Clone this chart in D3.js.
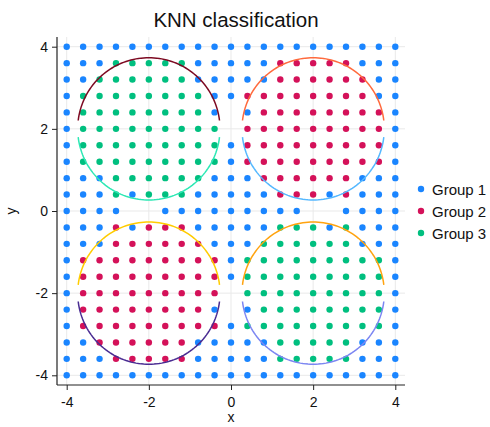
<!DOCTYPE html>
<html>
<head>
<meta charset="utf-8">
<script src="https://cdn.jsdelivr.net/npm/d3@7"></script>
<style>
  body { margin: 0; background: #fff; }
  svg { display: block; font-family: "Liberation Sans", Arial, sans-serif; }
</style>
</head>
<body>
<svg id="chart" width="490" height="427"></svg>
<script>
// --- DATA ---
const gridX = [-4, -3.6, -3.2, -2.8, -2.4, -2, -1.6, -1.2, -0.8, -0.4, 0, 0.4, 0.8, 1.2, 1.6, 2, 2.4, 2.8, 3.2, 3.6, 4];
const gridY = [4, 3.6, 3.2, 2.8, 2.4, 2, 1.6, 1.2, 0.8, 0.4, 0, -0.4, -0.8, -1.2, -1.6, -2, -2.4, -2.8, -3.2, -3.6, -4];
// predicted group per grid cell, one string per row (top to bottom); "." = no prediction
const predRows = [
  "111111111111111111111",
  "111333331111122222111",
  "113333331111122222211",
  "133333333112222222211",
  "1333333331.1222222221",
  "1333333333.2222222221",
  "133333333312222222221",
  "133333333312222222221",
  "111333333111222222111",
  "111313331111122212111",
  "1111..111111111..1111",
  "111212221111133313111",
  "111222222111333333111",
  "122222222213333333331",
  "122222222213333333331",
  "1222222222.3333333331",
  "1222222221.1333333331",
  "122222222213333333331",
  "112222221111133333111",
  "111222221111133333111",
  "111111111111111111111"
];
const groups = ["Group 1", "Group 2", "Group 3"];
const tickVals = [-4, -2, 0, 2, 4];
// true class regions: circles, drawn as upper and lower halves
const circleX = [-2, 2, -2, 2];
const circleY = [2, 2, -2, -2];
const circleR = [1.732, 1.732, 1.732, 1.732];
const arcHalfWidth = 1.72;

// --- STYLE ---
const groupColors = ["#1a85ff", "#d41159", "#00bf7f"];
const upperColors = ["#7d0a22", "#ff6a3d", "#ffcc00", "#ffa30f"];
const lowerColors = ["#2de8b4", "#55b8ff", "#4a2c92", "#7c86f2"];

const svg = d3.select("#chart");
const plotLeft = 57, plotRight = 405, plotTop = 37, plotBottom = 385;

const x = d3.scaleLinear().domain([-4, 4]).range([66.7, 395.3]);
const y = d3.scaleLinear().domain([-4, 4]).range([375.3, 46.7]);

// --- GRID ---
const grid = svg.append("g");
grid.selectAll("line.gx").data(tickVals).enter().append("line")
  .attr("x1", d => x(d)).attr("x2", d => x(d))
  .attr("y1", plotTop).attr("y2", plotBottom)
  .attr("stroke", "#e9e9e9").attr("stroke-width", 1);
grid.selectAll("line.gy").data(tickVals).enter().append("line")
  .attr("y1", d => y(d)).attr("y2", d => y(d))
  .attr("x1", plotLeft).attr("x2", plotRight)
  .attr("stroke", "#e9e9e9").attr("stroke-width", 1);

// --- POINTS ---
const points = [];
predRows.forEach((row, j) => {
  row.split("").forEach((c, i) => {
    if (c !== ".") points.push({ x: gridX[i], y: gridY[j], g: +c - 1 });
  });
});

svg.append("g")
  .selectAll("circle")
  .data(points)
  .enter()
  .append("circle")
  .attr("cx", d => x(d.x))
  .attr("cy", d => y(d.y))
  .attr("r", 3.2)
  .attr("fill", d => groupColors[d.g]);

// --- CIRCLE ARCS ---
const line = d3.line().x(d => x(d[0])).y(d => y(d[1]));
const arcs = svg.append("g").attr("fill", "none").attr("stroke-width", 1.5);
circleX.forEach((cx, k) => {
  const r = circleR[k];
  const a0 = Math.acos(arcHalfWidth / r);
  const angles = d3.range(a0, Math.PI - a0 + 1e-9, (Math.PI - 2 * a0) / 80);
  const upper = angles.map(a => [cx + r * Math.cos(a), circleY[k] + r * Math.sin(a)]);
  const lower = angles.map(a => [cx + r * Math.cos(a), circleY[k] - r * Math.sin(a)]);
  arcs.append("path").attr("d", line(upper)).attr("stroke", upperColors[k]);
  arcs.append("path").attr("d", line(lower)).attr("stroke", lowerColors[k]);
});

// --- AXES ---
const xAxis = d3.axisBottom(x).tickValues(tickVals).tickSize(5).tickSizeOuter(0);
const yAxis = d3.axisLeft(y).tickValues(tickVals).tickSize(5).tickSizeOuter(0);

const gx = svg.append("g").attr("transform", `translate(0,${plotBottom})`).call(xAxis);
gx.select(".domain").attr("d", `M${plotLeft},0H${plotRight}`);
const gy = svg.append("g").attr("transform", `translate(${plotLeft},0)`).call(yAxis);
gy.select(".domain").attr("d", `M0,${plotTop}V${plotBottom}`);

[gx, gy].forEach(g => {
  g.select(".domain").attr("stroke", "#222").attr("stroke-width", 1.2);
  g.selectAll(".tick line").attr("stroke", "#222");
  g.selectAll(".tick text")
    .attr("fill", "#111")
    .style("font-size", "14px")
    .style("font-family", "Liberation Sans, Arial, sans-serif")
    .text(d => d < 0 ? "-" + Math.abs(d) : d);
});
gx.selectAll(".tick text").attr("dy", "1em").attr("y", 8);
gy.selectAll(".tick text").attr("x", -9);

// --- TITLES ---
svg.append("text")
  .attr("x", 236).attr("y", 27)
  .attr("text-anchor", "middle")
  .style("font-size", "20.5px")
  .attr("fill", "#111")
  .text("KNN classification");

svg.append("text")
  .attr("x", 231).attr("y", 422)
  .attr("text-anchor", "middle")
  .style("font-size", "14px")
  .attr("fill", "#111")
  .text("x");

svg.append("text")
  .attr("transform", "translate(16,211) rotate(-90)")
  .attr("text-anchor", "middle")
  .style("font-size", "14px")
  .attr("fill", "#111")
  .text("y");

// --- LEGEND ---
const legend = svg.append("g")
  .selectAll("g")
  .data(groups)
  .enter()
  .append("g")
  .attr("transform", (d, i) => `translate(421,${189 + i * 22})`);
legend.append("circle").attr("r", 3.2).attr("fill", (d, i) => groupColors[i]);
legend.append("text")
  .attr("x", 11).attr("y", 5.5)
  .style("font-size", "15px")
  .attr("fill", "#111")
  .text(d => d);
</script>
</body>
</html>
